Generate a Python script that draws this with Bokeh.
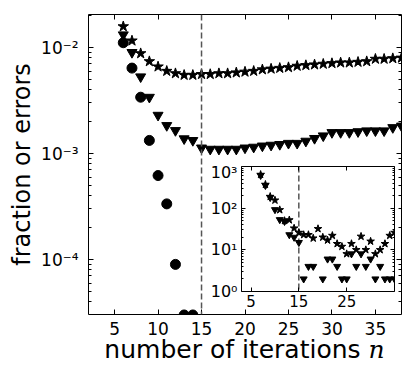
from bokeh.plotting import figure
from bokeh.models import (Range1d, FixedTicker, LogAxis, LinearAxis, Span,
                          CustomJSTickFormatter, Div)
from bokeh.layouts import column
from bokeh.embed import file_html
from bokeh.resources import INLINE

FONT = "DejaVu Sans"

# ---------------- main panel data ----------------
n_main = [6, 7, 8, 9, 10, 11, 12, 13, 14, 15, 16, 17, 18, 19, 20, 21, 22,
          23, 24, 25, 26, 27, 28, 29, 30, 31, 32, 33, 34, 35, 36, 37, 38]
stars_main = [0.0158, 0.0116, 0.0088, 0.0074, 0.0066, 0.0060, 0.0057, 0.0055,
              0.0055, 0.0056, 0.0056, 0.0057, 0.0057, 0.0058, 0.0059, 0.0060,
              0.0062, 0.0063, 0.0064, 0.0065, 0.0067, 0.0068, 0.0069, 0.0070,
              0.0071, 0.0072, 0.0072, 0.0073, 0.0074, 0.0078, 0.0078, 0.0079,
              0.0080]
tri_main = [0.0132, 0.0090, 0.0053, 0.0034, 0.0023, 0.00184, 0.00165, 0.00138,
            0.00133, 0.00113, 0.00110, 0.00110, 0.00110, 0.00110, 0.00113,
            0.00115, 0.00118, 0.00120, 0.00122, 0.00125, 0.00125, 0.00131,
            0.00139, 0.00147, 0.00158, 0.00158, 0.00158, 0.00161, 0.00164,
            0.00164, 0.00164, 0.00176, 0.00182]
n_circ = [6, 7, 8, 9, 10, 11, 12, 13, 14]
circ_main = [0.0111, 0.0064, 0.0034, 0.00133, 0.00062, 0.000335, 0.000090,
             0.000030, 0.000030]

x_ticks_main = [5, 10, 15, 20, 25, 30, 35]
y_ticks_main = [1e-4, 1e-3, 1e-2]
dashed_at = 15
x_label_main = "number of iterations"
x_label_var = "n"
y_label_main = "fraction or errors"

# ---------------- inset data ----------------
n_inset = [7, 8, 9, 10, 11, 12, 13, 14, 15, 16, 17, 18, 19, 20, 21, 22, 23,
           24, 25, 26, 27, 28, 29, 30, 31, 32, 33, 34, 35]
stars_inset = [640, 370, 190, 155, 91, 50, 52, 33, 26, 23, 23, 19, 32, 20, 17,
               22, 14, 12, 8, 14, 10, 21, 10, 16, 8, 10, 14, 22, 26]
NAN = float("nan")
tri_inset = [610, 350, 180, 92, 53, 48, 23, 20, 15, 2, 4, 4, NAN, 2, 6, 6, 4,
             2, 2, 8, 4, 8, 4, 6, 2, 4, 2, 2, 2]
x_ticks_inset = [5, 15, 25]
y_ticks_inset = [1, 10, 100, 1000]


def log_minor(lo_exp, hi_exp):
    return [k * 10.0 ** e for e in range(lo_exp, hi_exp + 1) for k in range(2, 10)]


SUP_JS = """
const sup = {"-": "\u207b", "0": "\u2070", "1": "\u00b9", "2": "\u00b2", "3": "\u00b3",
             "4": "\u2074", "5": "\u2075", "6": "\u2076", "7": "\u2077", "8": "\u2078", "9": "\u2079"};
const e = Math.round(Math.log10(tick));
return "10" + String(e).split("").map(c => sup[c]).join("");
"""


def style_axis(ax, size, standoff, tick_in=5, minor_in=3):
    ax.major_tick_in = tick_in
    ax.major_tick_out = 0
    ax.minor_tick_in = minor_in
    ax.minor_tick_out = 0
    ax.major_tick_line_color = "black"
    ax.minor_tick_line_color = "black"
    ax.axis_line_color = None
    ax.major_label_text_font = FONT
    ax.major_label_text_font_size = size
    ax.major_label_text_color = "black"
    ax.major_label_standoff = standoff
    ax.axis_label_text_font = FONT
    ax.axis_label_text_font_style = "normal"
    ax.axis_label_text_color = "black"


def hidden_axis(ax, tick_in=5, minor_in=3):
    style_axis(ax, "0px", 0, tick_in, minor_in)
    ax.major_label_text_alpha = 0


# ---------------- main figure ----------------
p = figure(width=407, height=370, x_range=Range1d(2, 38),
           y_range=Range1d(3.03e-5, 2.05e-2), y_axis_type="log",
           output_backend="svg", toolbar_location=None,
           min_border_left=88, min_border_right=6, min_border_top=14,
           min_border_bottom=56)
p.xgrid.visible = False
p.ygrid.visible = False
p.outline_line_color = "black"
p.outline_line_width = 1
p.outline_line_alpha = 1

xt = FixedTicker(ticks=x_ticks_main, minor_ticks=[])
yt = FixedTicker(ticks=y_ticks_main, minor_ticks=log_minor(-5, -2))
p.xaxis[0].ticker = xt
p.yaxis[0].ticker = yt
p.yaxis[0].formatter = CustomJSTickFormatter(code=SUP_JS)
style_axis(p.xaxis[0], "17px", 7)
style_axis(p.yaxis[0], "17px", 10)
p.yaxis[0].axis_label = y_label_main
p.yaxis[0].axis_label_text_font_size = "24px"
p.yaxis[0].axis_label_standoff = 2

ra = LogAxis(ticker=yt)
hidden_axis(ra)
p.add_layout(ra, "right")
ta = LinearAxis(ticker=xt)
hidden_axis(ta)
p.add_layout(ta, "above")

p.add_layout(Span(location=dashed_at, dimension="height", line_color="#555555",
                  line_dash="6 3", line_width=1.5))

p.scatter(n_circ, circ_main, marker="circle", size=10, color="black")
p.scatter(n_main, tri_main, marker="inverted_triangle", size=10, color="black")
p.scatter(n_main, stars_main, marker="star", size=11, color="black")

# ---------------- inset figure ----------------
q = figure(width=247, height=151, x_range=Range1d(3, 35),
           y_range=Range1d(1, 1000), y_axis_type="log",
           output_backend="svg", toolbar_location=None,
           min_border_left=88, min_border_right=6, min_border_top=4,
           min_border_bottom=22, border_fill_color=None,
           background_fill_color="white", margin=(-208, 0, 0, 153))
q.xgrid.visible = False
q.ygrid.visible = False
q.outline_line_color = "black"
q.outline_line_width = 1
q.outline_line_alpha = 1

qxt = FixedTicker(ticks=x_ticks_inset, minor_ticks=[])
qyt = FixedTicker(ticks=y_ticks_inset, minor_ticks=log_minor(0, 3))
q.xaxis[0].ticker = qxt
q.yaxis[0].ticker = qyt
q.yaxis[0].formatter = CustomJSTickFormatter(code=SUP_JS)
style_axis(q.xaxis[0], "15px", 3, tick_in=4, minor_in=2)
style_axis(q.yaxis[0], "16px", 4, tick_in=4, minor_in=2)

qra = LogAxis(ticker=qyt)
hidden_axis(qra, 4, 2)
q.add_layout(qra, "right")
qta = LinearAxis(ticker=qxt)
hidden_axis(qta, 4, 2)
q.add_layout(qta, "above")

q.add_layout(Span(location=dashed_at, dimension="height", line_color="black",
                  line_dash="6 3", line_width=1))

q.scatter(n_inset, tri_inset, marker="inverted_triangle", size=7, color="black")
q.scatter(n_inset, stars_inset, marker="star", size=8, color="black")

# ---------------- x-axis title (with italic variable) ----------------
xlabel = Div(text=x_label_main + ' <i style="font-family: \'DejaVu Serif\';">'
             + x_label_var + '</i>',
             width=313, height=30, margin=(22, 0, 0, 88),
             styles={"text-align": "center", "font-family": "'DejaVu Sans'",
                     "font-size": "25px", "line-height": "29px",
                     "color": "black", "white-space": "nowrap"})

layout = column(p, q, xlabel, spacing=0)
open("out.html", "w").write(file_html(layout, INLINE))
